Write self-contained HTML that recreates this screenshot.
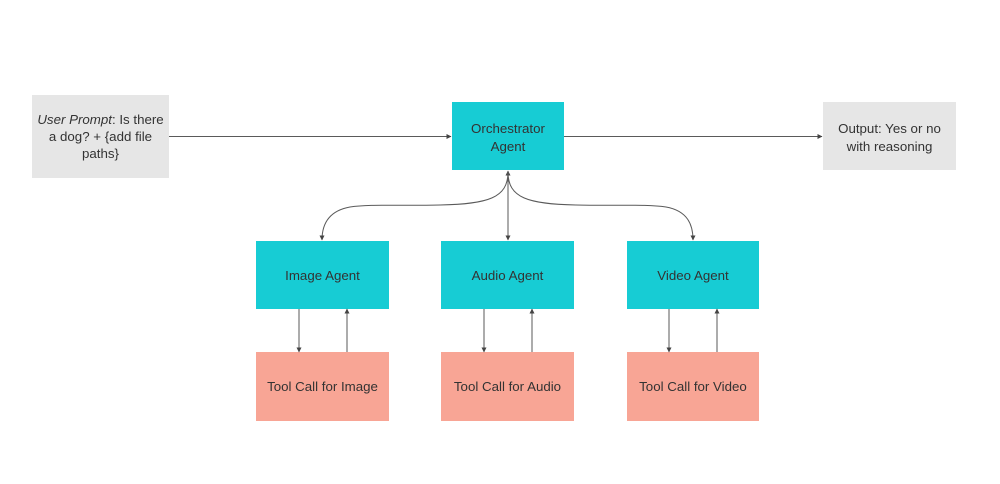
<!DOCTYPE html>
<html>
<head>
<meta charset="utf-8">
<style>
  html,body{margin:0;padding:0;background:#ffffff;}
  body{width:1000px;height:484px;overflow:hidden;}
  svg{display:block;}
  text{font-family:"Liberation Sans", sans-serif;font-size:13.3px;fill:#333333;}
</style>
</head>
<body>
<svg width="1000" height="484" viewBox="0 0 1000 484" xmlns="http://www.w3.org/2000/svg">
  <defs>
    <marker id="ah" viewBox="0 0 10 10" refX="9" refY="5" markerWidth="5" markerHeight="5" orient="auto-start-reverse" markerUnits="userSpaceOnUse">
      <path d="M0,0 L10,5 L0,10 z" fill="#444"/>
    </marker>
  </defs>

  <!-- Boxes -->
  <rect x="32" y="95" width="137" height="83" fill="#e6e6e6"/>
  <rect x="452" y="102" width="112" height="68" fill="#17ccd4"/>
  <rect x="823" y="102" width="133" height="68" fill="#e6e6e6"/>

  <rect x="256" y="241" width="133" height="68" fill="#17ccd4"/>
  <rect x="441" y="241" width="133" height="68" fill="#17ccd4"/>
  <rect x="627" y="241" width="132" height="68" fill="#17ccd4"/>

  <rect x="256" y="352" width="133" height="69" fill="#f8a595"/>
  <rect x="441" y="352" width="133" height="69" fill="#f8a595"/>
  <rect x="627" y="352" width="132" height="69" fill="#f8a595"/>

  <!-- Connectors -->
  <g stroke="#5a5a5a" stroke-width="1" fill="none">
    <line x1="169" y1="136.5" x2="451" y2="136.5" marker-end="url(#ah)"/>
    <line x1="564" y1="136.5" x2="822" y2="136.5" marker-end="url(#ah)"/>

    <line x1="508" y1="171" x2="508" y2="240" marker-start="url(#ah)" marker-end="url(#ah)"/>
    <path d="M508,172 C508,198 488,204 440,205 C400,206 370,204 350,207 C328,211 322,225 322,240" marker-end="url(#ah)"/>
    <path d="M508,172 C508,198 528,204 576,205 C616,206 646,204 666,207 C688,211 693,225 693,240" marker-end="url(#ah)"/>

    <line x1="299" y1="309" x2="299" y2="352" marker-end="url(#ah)"/>
    <line x1="347" y1="352" x2="347" y2="309" marker-end="url(#ah)"/>
    <line x1="484" y1="309" x2="484" y2="352" marker-end="url(#ah)"/>
    <line x1="532" y1="352" x2="532" y2="309" marker-end="url(#ah)"/>
    <line x1="669" y1="309" x2="669" y2="352" marker-end="url(#ah)"/>
    <line x1="717" y1="352" x2="717" y2="309" marker-end="url(#ah)"/>
  </g>

  <!-- Labels -->
  <text x="100.5" y="124" text-anchor="middle"><tspan font-style="italic">User Prompt</tspan>: Is there</text>
  <text x="100.5" y="141" text-anchor="middle">a dog? + {add file</text>
  <text x="100.5" y="158" text-anchor="middle">paths}</text>

  <text x="508" y="133" text-anchor="middle">Orchestrator</text>
  <text x="508" y="151" text-anchor="middle">Agent</text>

  <text x="889.5" y="133" text-anchor="middle">Output: Yes or no</text>
  <text x="889.5" y="151" text-anchor="middle">with reasoning</text>

  <text x="322.5" y="280" text-anchor="middle">Image Agent</text>
  <text x="507.5" y="280" text-anchor="middle">Audio Agent</text>
  <text x="693" y="280" text-anchor="middle">Video Agent</text>

  <text x="322.5" y="391" text-anchor="middle">Tool Call for Image</text>
  <text x="507.5" y="391" text-anchor="middle">Tool Call for Audio</text>
  <text x="693" y="391" text-anchor="middle">Tool Call for Video</text>
</svg>
</body>
</html>
